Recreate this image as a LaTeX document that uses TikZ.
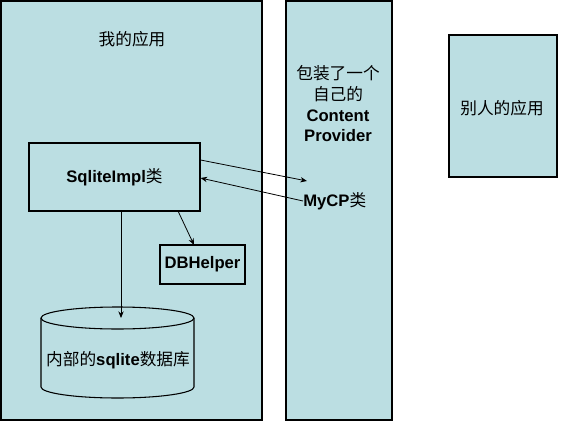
\documentclass[tikz,border=0pt]{standalone}
\usepackage{fontspec}
\setmainfont{Liberation Sans}
\newfontfamily\cjk{Noto Sans CJK SC}
\usetikzlibrary{arrows.meta}
\definecolor{panel}{RGB}{187,222,226}
\tikzset{
  box/.style={draw=black, line width=0.8pt, fill=panel},
  lbl/.style={font=\fontsize{12.5pt}{15.5pt}\selectfont, align=center, inner sep=0pt},
  arr/.style={draw=black, line width=0.6pt, -{Stealth[length=5pt,width=4pt]}}
}
\begin{document}
\begin{tikzpicture}[x=0.75pt,y=-0.75pt]
\useasboundingbox (0,0) rectangle (564,421);
% panels
\draw[box] (1,1) rectangle (262,420);
\draw[box] (286,1) rectangle (392,420);
\draw[box] (449,35) rectangle (557,177);
\node[lbl] (mine) at (132,39) {\cjk 我的应用};
\node[lbl] (cp) at (338,104) {{\cjk 包装了一个}\\{\cjk 自己的}\\\textbf{Content}\\\textbf{Provider}};
\node[lbl] (other) at (502,108) {\cjk 别人的应用};
% boxes
\node[box, lbl, minimum width=171*0.75pt, minimum height=68*0.75pt] (impl) at (114.5,177) {\textbf{SqliteImpl}{\cjk 类}};
\node[box, lbl, minimum width=85*0.75pt, minimum height=39*0.75pt] (dbh) at (202.5,264.5) {\textbf{DBHelper}};
% cylinder
\draw[box] (41,318) -- (41,387) arc[start angle=180,end angle=0,x radius=76.5,y radius=11] -- (194,318)
  arc[start angle=0,end angle=-180,x radius=76.5,y radius=11] -- cycle;
\draw[line width=0.8pt] (41,318) arc[start angle=180,end angle=0,x radius=76.5,y radius=11];
\coordinate (dbtop) at (121,318);
\node[lbl] (db) at (118,360) {{\cjk 内部的}\textbf{sqlite}{\cjk 数据库}};
\node[lbl, anchor=west] (mycp) at (303,201) {\textbf{MyCP}{\cjk 类}};
\coordinate (cpin) at (307,181);
% connectors
\draw[arr] (impl.east |- 0,160) -- (cpin);
\draw[arr] (mycp.west) -- (impl.east |- 0,178);
\draw[arr] (impl.south -| dbtop) -- (dbtop);
\draw[arr] (178,211) -- (194,245);
\end{tikzpicture}
\end{document}
